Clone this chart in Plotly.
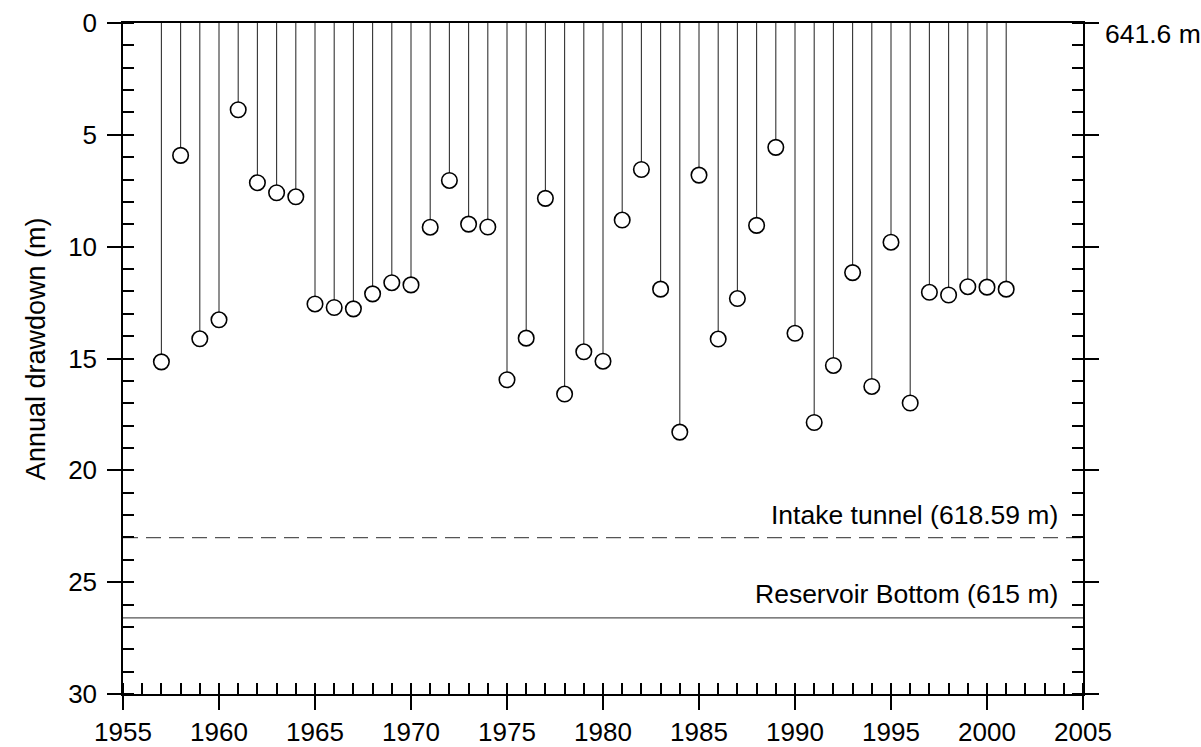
import plotly.graph_objects as go

# ---- data ----
years = list(range(1957, 2002))
drawdown = [15.15, 5.92, 14.12, 13.27, 3.88, 7.14, 7.59, 7.77, 12.56, 12.72,
            12.78, 12.11, 11.61, 11.71, 9.13, 7.04, 8.99, 9.12, 15.95, 14.09,
            7.84, 16.59, 14.70, 15.12, 8.81, 6.55, 11.90, 18.29, 6.80, 14.13,
            12.32, 9.05, 5.56, 13.87, 17.86, 15.31, 11.16, 16.25, 9.80, 16.99,
            12.04, 12.16, 11.79, 11.81, 11.90]
full_level = 641.6
intake_elev = 618.59
bottom_elev = 615.0
x_range = [1955, 2005]
y_range = [30, 0]

intake_dd = full_level - intake_elev
bottom_dd = full_level - bottom_elev

FONT = "Liberation Sans, Arial, sans-serif"

fig = go.Figure()

# reference lines
fig.add_trace(go.Scatter(x=x_range, y=[intake_dd, intake_dd], mode="lines",
                         line=dict(color="#555555", width=1.3, dash="15px,8px"),
                         hoverinfo="skip", showlegend=False, cliponaxis=True))
fig.add_trace(go.Scatter(x=x_range, y=[bottom_dd, bottom_dd], mode="lines",
                         line=dict(color="#555555", width=1.3),
                         hoverinfo="skip", showlegend=False, cliponaxis=True))

# stems (error bars from 0 down to value) + open circles
fig.add_trace(go.Scatter(
    x=years, y=drawdown, mode="markers",
    marker=dict(symbol="circle", size=15.5, color="white",
                line=dict(color="black", width=1.6)),
    error_y=dict(type="data", symmetric=False, array=[0] * len(drawdown),
                 arrayminus=drawdown, width=0, thickness=1.1, color="#333333"),
    showlegend=False, cliponaxis=False))

axis_common = dict(showgrid=False, zeroline=False, showline=True,
                   linecolor="black", linewidth=1.5,
                   ticks="outside", ticklen=14, tickwidth=1.5, tickcolor="black",
                   tickfont=dict(family=FONT, size=26, color="black"),
                   automargin=False)

fig.update_xaxes(range=x_range, tick0=1955, dtick=5, mirror=True,
                 minor=dict(ticks="inside", ticklen=11, tickwidth=1.5,
                            tickcolor="black", dtick=1, tick0=1955, showgrid=False),
                 **axis_common)
fig.update_yaxes(range=y_range, tick0=0, dtick=5, mirror="ticks",
                 ticklabelstandoff=5,
                 minor=dict(ticks="inside", ticklen=11, tickwidth=1.5,
                            tickcolor="black", dtick=1, tick0=0, showgrid=False),
                 **axis_common)

ann_font = dict(family=FONT, size=26.5, color="black")
fig.add_annotation(x=2003.8, y=intake_dd - 1.0, xref="x", yref="y",
                   text="Intake tunnel (618.59 m)", showarrow=False,
                   xanchor="right", yanchor="middle", font=ann_font)
fig.add_annotation(x=2003.8, y=bottom_dd - 1.05, xref="x", yref="y",
                   text="Reservoir Bottom (615 m)", showarrow=False,
                   xanchor="right", yanchor="middle", font=ann_font)
fig.add_annotation(x=1.0205, y=0.983, xref="paper", yref="paper",
                   text=f"{full_level} m", showarrow=False,
                   xanchor="left", yanchor="middle", font=ann_font)
fig.add_annotation(x=-0.0899, y=0.515, xref="paper", yref="paper",
                   text="Annual drawdown (m)", showarrow=False, textangle=-90,
                   xanchor="center", yanchor="middle",
                   font=dict(family=FONT, size=27, color="black"))

fig.update_layout(width=1201, height=747,
                  margin=dict(l=123, r=118, t=23, b=53, pad=0),
                  plot_bgcolor="white", paper_bgcolor="white",
                  font=dict(family=FONT, color="black"))

fig.write_html("out.html")
